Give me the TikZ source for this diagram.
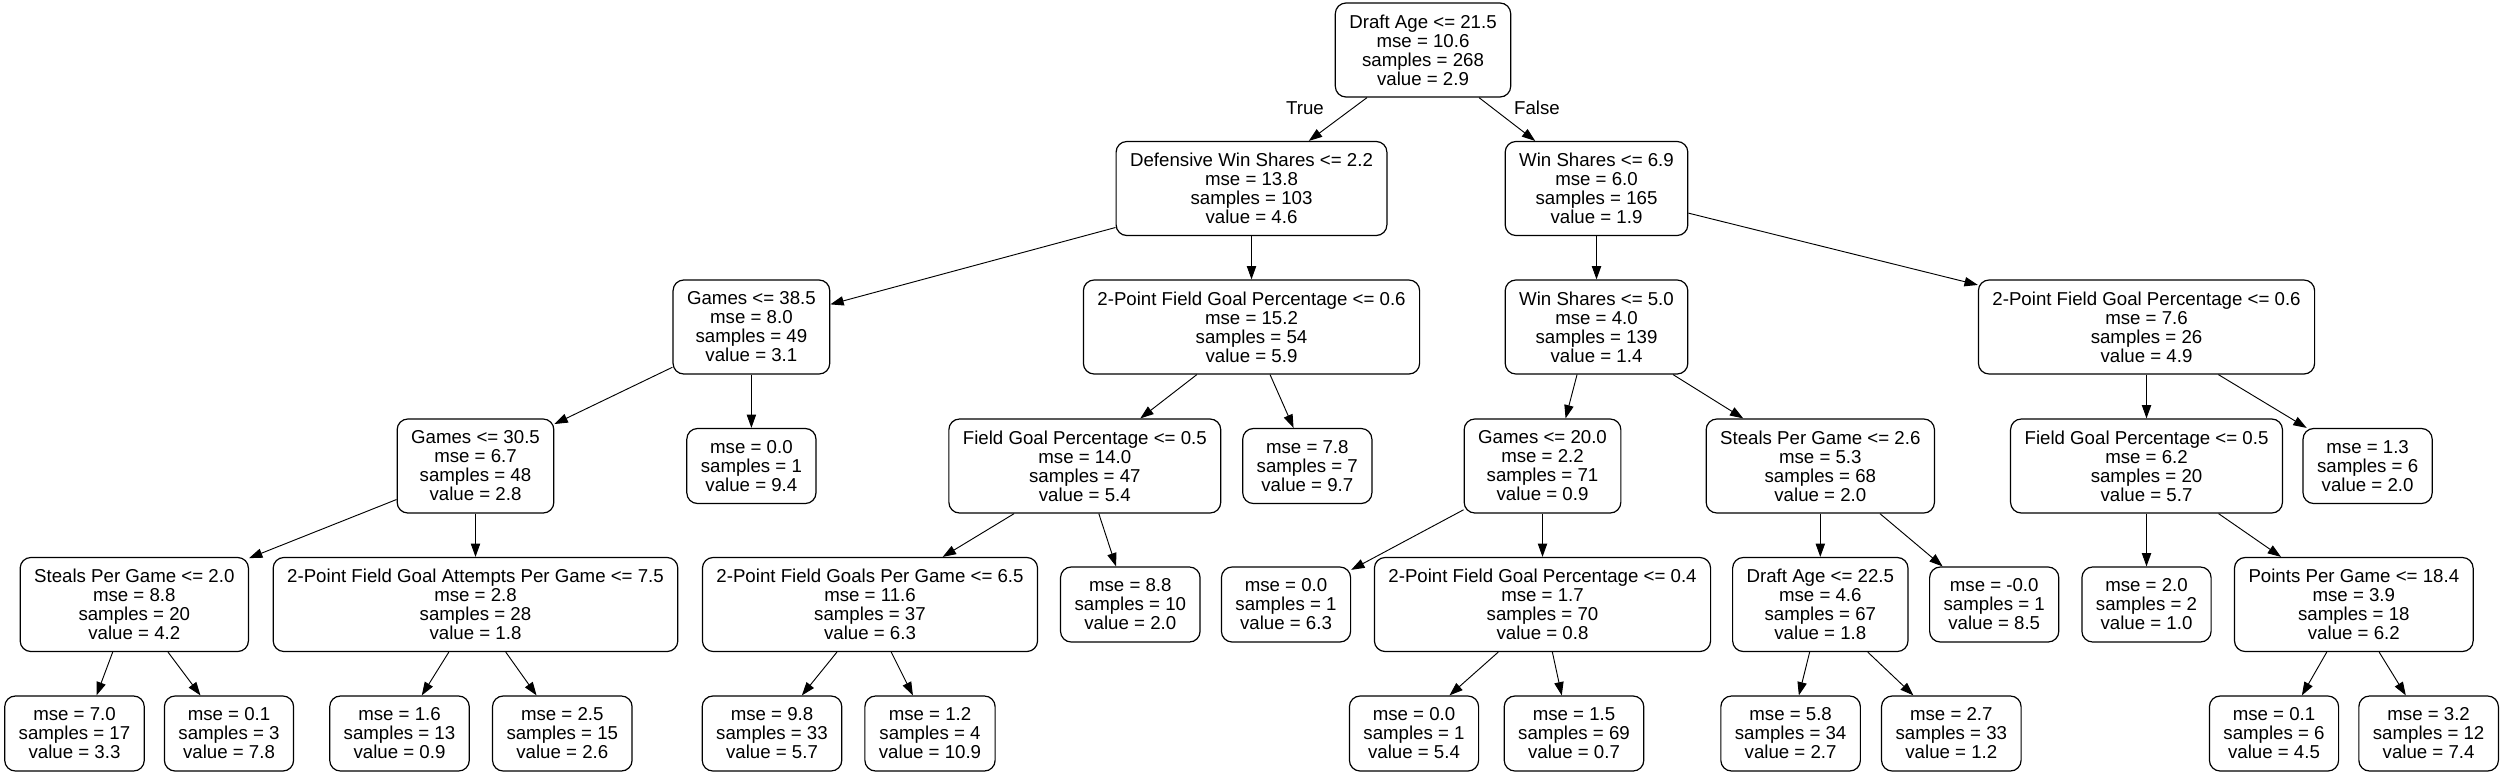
\documentclass[tikz,border=0pt]{standalone}
\usepackage{fontspec}
\setmainfont{Liberation Sans}
\usetikzlibrary{arrows.meta}

\begin{document}
\begin{tikzpicture}[x=0.75pt, y=-0.75pt,
  split/.style={draw, line width=0.9pt, rounded corners=8pt, align=center,
    inner xsep=10.5pt, inner ysep=2pt, minimum height=70.5pt,
    font=\fontsize{14}{14.25}\selectfont},
  leaf/.style={split, minimum height=56.25pt},
  lbl/.style={font=\fontsize{14}{14.25}\selectfont, inner sep=0pt},
  edge/.style={-{Triangle[length=10pt,width=7pt]}, line width=0.7pt}]

  \useasboundingbox (0,0) rectangle (2504,775);

  %% level 0 and 1
  \node[split] (n0) at (1423,50) {Draft Age <= 21.5\\mse = 10.6\\samples = 268\\value = 2.9};
  \node[split] (n1) at (1251.5,188.5) {Defensive Win Shares <= 2.2\\mse = 13.8\\samples = 103\\value = 4.6};
  \node[split] (n18) at (1596.5,188.5) {Win Shares <= 6.9\\mse = 6.0\\samples = 165\\value = 1.9};

  %% level 2
  \node[split] (n2) at (751.4,327) {Games <= 38.5\\mse = 8.0\\samples = 49\\value = 3.1};
  \node[split] (n11) at (1251.5,327) {2-Point Field Goal Percentage <= 0.6\\mse = 15.2\\samples = 54\\value = 5.9};
  \node[split] (n19) at (1596.5,327) {Win Shares <= 5.0\\mse = 4.0\\samples = 139\\value = 1.4};
  \node[split] (n30) at (2146.5,327) {2-Point Field Goal Percentage <= 0.6\\mse = 7.6\\samples = 26\\value = 4.9};

  %% level 3
  \node[split] (n3) at (475.5,466) {Games <= 30.5\\mse = 6.7\\samples = 48\\value = 2.8};
  \node[leaf] (n10) at (751.4,466) {mse = 0.0\\samples = 1\\value = 9.4};
  \node[split] (n12) at (1084.8,466) {Field Goal Percentage <= 0.5\\mse = 14.0\\samples = 47\\value = 5.4};
  \node[leaf] (n17) at (1307.3,466) {mse = 7.8\\samples = 7\\value = 9.7};
  \node[split] (n20) at (1542.5,466) {Games <= 20.0\\mse = 2.2\\samples = 71\\value = 0.9};
  \node[split] (n25) at (1820.3,466) {Steals Per Game <= 2.6\\mse = 5.3\\samples = 68\\value = 2.0};
  \node[split] (n31) at (2146.5,466) {Field Goal Percentage <= 0.5\\mse = 6.2\\samples = 20\\value = 5.7};
  \node[leaf] (n36) at (2367.6,466) {mse = 1.3\\samples = 6\\value = 2.0};

  %% level 4
  \node[split] (n4) at (134.3,604.5) {Steals Per Game <= 2.0\\mse = 8.8\\samples = 20\\value = 4.2};
  \node[split] (n7) at (475.5,604.5) {2-Point Field Goal Attempts Per Game <= 7.5\\mse = 2.8\\samples = 28\\value = 1.8};
  \node[split] (n13) at (870,604.5) {2-Point Field Goals Per Game <= 6.5\\mse = 11.6\\samples = 37\\value = 6.3};
  \node[leaf] (n16) at (1130.3,604.5) {mse = 8.8\\samples = 10\\value = 2.0};
  \node[leaf] (n21) at (1286,604.5) {mse = 0.0\\samples = 1\\value = 6.3};
  \node[split] (n22) at (1542.5,604.5) {2-Point Field Goal Percentage <= 0.4\\mse = 1.7\\samples = 70\\value = 0.8};
  \node[split] (n26) at (1820.3,604.5) {Draft Age <= 22.5\\mse = 4.6\\samples = 67\\value = 1.8};
  \node[leaf] (n29) at (1994.2,604.5) {mse = -0.0\\samples = 1\\value = 8.5};
  \node[leaf] (n32) at (2146.5,604.5) {mse = 2.0\\samples = 2\\value = 1.0};
  \node[split] (n33) at (2353.8,604.5) {Points Per Game <= 18.4\\mse = 3.9\\samples = 18\\value = 6.2};

  %% level 5
  \node[leaf] (n5) at (74.5,733.5) {mse = 7.0\\samples = 17\\value = 3.3};
  \node[leaf] (n6) at (229,733.5) {mse = 0.1\\samples = 3\\value = 7.8};
  \node[leaf] (n8) at (399.5,733.5) {mse = 1.6\\samples = 13\\value = 0.9};
  \node[leaf] (n9) at (562.3,733.5) {mse = 2.5\\samples = 15\\value = 2.6};
  \node[leaf] (n14) at (772,733.5) {mse = 9.8\\samples = 33\\value = 5.7};
  \node[leaf] (n15) at (930,733.5) {mse = 1.2\\samples = 4\\value = 10.9};
  \node[leaf] (n23) at (1414,733.5) {mse = 0.0\\samples = 1\\value = 5.4};
  \node[leaf] (n24) at (1574,733.5) {mse = 1.5\\samples = 69\\value = 0.7};
  \node[leaf] (n27) at (1790.6,733.5) {mse = 5.8\\samples = 34\\value = 2.7};
  \node[leaf] (n28) at (1951.3,733.5) {mse = 2.7\\samples = 33\\value = 1.2};
  \node[leaf] (n34) at (2274,733.5) {mse = 0.1\\samples = 6\\value = 4.5};
  \node[leaf] (n35) at (2428.6,733.5) {mse = 3.2\\samples = 12\\value = 7.4};

  \node[lbl] (t) at (1305,108) {True};
  \node[lbl] (f) at (1537,108) {False};

  \draw[edge] ([xshift=-42pt]n0.south) -- ([xshift=43pt]n1.north); %% 0 -> 1
  \draw[edge] ([xshift=42pt]n0.south) -- ([xshift=-46pt]n18.north); %% 0 -> 18
  \draw[edge] (n1.196) -- (n2.16); %% 1 -> 2
  \draw[edge] (n1.south) -- (n11.north); %% 1 -> 11
  \draw[edge] (n18.south) -- (n19.north); %% 18 -> 19
  \draw[edge] (n18.345) -- (n30.166); %% 18 -> 30

  \draw[edge] (n2.207) -- (n3.28); %% 2 -> 3
  \draw[edge] (n2.south) -- (n10.north); %% 2 -> 10
  \draw[edge] ([xshift=-41pt]n11.south) -- ([xshift=41.6pt]n12.north); %% 11 -> 12
  \draw[edge] ([xshift=13.9pt]n11.south) -- ([xshift=-10.3pt]n17.north); %% 11 -> 17
  \draw[edge] ([xshift=-14.6pt]n19.south) -- ([xshift=17.3pt]n20.north); %% 19 -> 20
  \draw[edge] ([xshift=57.4pt]n19.south) -- ([xshift=-57.8pt]n25.north); %% 19 -> 25
  \draw[edge] (n30.south) -- (n31.north); %% 30 -> 31
  \draw[edge] ([xshift=53.9pt]n30.south) -- (n36.148); %% 30 -> 36

  \draw[edge] (n3.203) -- (n4.22); %% 3 -> 4
  \draw[edge] (n3.south) -- (n7.north); %% 3 -> 7
  \draw[edge] ([xshift=-53pt]n12.south) -- ([xshift=54.5pt]n13.north); %% 12 -> 13
  \draw[edge] ([xshift=10.5pt]n12.south) -- ([xshift=-10.7pt]n16.north); %% 12 -> 16
  \draw[edge] (n20.209) -- (n21.28); %% 20 -> 21
  \draw[edge] (n20.south) -- (n22.north); %% 20 -> 22
  \draw[edge] (n25.south) -- (n26.north); %% 25 -> 26
  \draw[edge] ([xshift=44.7pt]n25.south) -- ([xshift=-38.7pt]n29.north); %% 25 -> 29
  \draw[edge] (n31.south) -- (n32.north); %% 31 -> 32
  \draw[edge] ([xshift=54pt]n31.south) -- ([xshift=-54.6pt]n33.north); %% 31 -> 33

  \draw[edge] ([xshift=-16.2pt]n4.south) -- ([xshift=16.5pt]n5.north); %% 4 -> 5
  \draw[edge] ([xshift=25.3pt]n4.south) -- ([xshift=-21.4pt]n6.north); %% 4 -> 6
  \draw[edge] ([xshift=-20pt]n7.south) -- ([xshift=16.7pt]n8.north); %% 7 -> 8
  \draw[edge] ([xshift=22.7pt]n7.south) -- ([xshift=-19.3pt]n9.north); %% 7 -> 9
  \draw[edge] ([xshift=-24.8pt]n13.south) -- ([xshift=22.4pt]n14.north); %% 13 -> 14
  \draw[edge] ([xshift=15.9pt]n13.south) -- ([xshift=-12.8pt]n15.north); %% 13 -> 15
  \draw[edge] ([xshift=-33.2pt]n22.south) -- ([xshift=26.6pt]n23.north); %% 22 -> 23
  \draw[edge] ([xshift=7.4pt]n22.south) -- ([xshift=-9.2pt]n24.north); %% 22 -> 24
  \draw[edge] ([xshift=-8pt]n26.south) -- ([xshift=6.2pt]n27.north); %% 26 -> 27
  \draw[edge] ([xshift=35.6pt]n26.south) -- ([xshift=-28.4pt]n28.north); %% 26 -> 28
  \draw[edge] ([xshift=-20.3pt]n33.south) -- ([xshift=20.9pt]n34.north); %% 33 -> 34
  \draw[edge] ([xshift=19pt]n33.south) -- ([xshift=-17.1pt]n35.north); %% 33 -> 35

\end{tikzpicture}
\end{document}
